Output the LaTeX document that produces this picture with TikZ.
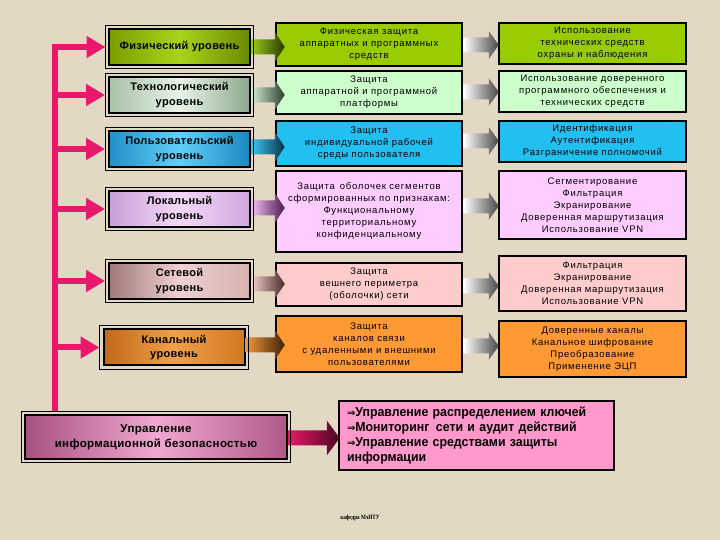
\documentclass[tikz,border=0pt]{standalone}
\usepackage{fontspec}
\setmainfont{Liberation Sans}
\newfontfamily\spacedfont[LetterSpace=8]{Liberation Sans}
\newfontfamily\lboxfont[LetterSpace=3]{Liberation Sans}
\newfontfamily\narrowfont[FakeStretch=0.95]{Liberation Sans}
\newfontfamily\symfont{DejaVu Sans}
\newfontfamily\footfont[FakeStretch=0.8]{Liberation Serif}
\usetikzlibrary{arrows.meta,calc}
\definecolor{bgc}{HTML}{E2D8C4}
\definecolor{pinkc}{HTML}{E8186A}
\definecolor{rowa}{HTML}{99CC00}
\definecolor{rowb}{HTML}{CCFFCC}
\definecolor{rowc}{HTML}{22C0F0}
\definecolor{rowd}{HTML}{FFCCFF}
\definecolor{rowe}{HTML}{FFCCCC}
\definecolor{rowf}{HTML}{FF9933}
\definecolor{rbc}{HTML}{FF99CC}
\definecolor{gapc}{HTML}{EEE8DC}
% arrow gradient colours
\definecolor{aAl}{HTML}{9ACD20}\definecolor{aAr}{HTML}{2A3800}
\definecolor{aBl}{HTML}{D0EDD0}\definecolor{aBr}{HTML}{2E3E2E}
\definecolor{aCl}{HTML}{40C8F0}\definecolor{aCr}{HTML}{083048}
\definecolor{aDl}{HTML}{F4C0F4}\definecolor{aDr}{HTML}{4A1850}
\definecolor{aEl}{HTML}{F4D0D0}\definecolor{aEr}{HTML}{4A2828}
\definecolor{aFl}{HTML}{F09838}\definecolor{aFr}{HTML}{402008}
\definecolor{grayr}{HTML}{484848}
\definecolor{bottomr}{HTML}{4A0820}
% left box shading colours
\definecolor{lAl}{HTML}{7A9E00}\definecolor{lAm}{HTML}{A8D41A}\definecolor{lAr}{HTML}{6A8A00}
\definecolor{lBl}{HTML}{A8C0A8}\definecolor{lBm}{HTML}{E8F4E8}\definecolor{lBr}{HTML}{8CA88C}
\definecolor{lCl}{HTML}{2090C8}\definecolor{lCm}{HTML}{60D0F8}\definecolor{lCr}{HTML}{1888C0}
\definecolor{lDl}{HTML}{C8A0D8}\definecolor{lDm}{HTML}{F4D8F8}\definecolor{lDr}{HTML}{D0A8E0}
\definecolor{lEl}{HTML}{A07878}\definecolor{lEm}{HTML}{F0D0D0}\definecolor{lEr}{HTML}{D8B0B0}
\definecolor{lFl}{HTML}{C06818}\definecolor{lFm}{HTML}{F0A048}\definecolor{lFr}{HTML}{D07820}
\definecolor{lGl}{HTML}{A85080}\definecolor{lGm}{HTML}{F0A8D0}\definecolor{lGr}{HTML}{B05888}
% #1 from, #2 to, #3 Y, #4 tip offset past to.west, #5 head length, #6 head half, #7 left colour, #8 right colour
\newcommand\blockarrow[8]{%
  \shade[left color=#7,right color=#8] let \p1=(#1.east),\p2=(#2.west) in
  (\x1,#3pt+7.5pt) -- (\x2+#4pt-#5pt,#3pt+7.5pt) -- (\x2+#4pt-#5pt,#3pt+#6pt)
  -- (\x2+#4pt,#3pt) -- (\x2+#4pt-#5pt,#3pt-#6pt) -- (\x2+#4pt-#5pt,#3pt-7.5pt)
  -- (\x1,#3pt-7.5pt) -- cycle;}
\begin{document}
\begin{tikzpicture}[x=1pt,y=1pt,
  lbox/.style={rectangle,draw=black,line width=2pt,minimum width=141pt,minimum height=36pt,
    inner sep=1pt,align=center,font=\lboxfont\bfseries\fontsize{11}{14.5}\selectfont},
  lshade/.style={left color=l#1l,right color=l#1r,middle color=l#1m},
  mbox/.style={rectangle,draw=black,line width=2.5pt,minimum width=186pt,inner sep=1pt,
    align=center,font=\spacedfont\fontsize{9.5}{12}\selectfont},
  rbox/.style={mbox,minimum width=187pt},
  pinkline/.style={draw=pinkc,line width=6pt,line join=miter},
  pinkarr/.style={pinkline,-{Triangle[length=19pt,width=21pt]},shorten >=3pt}]
\useasboundingbox (0,0) rectangle (720,540);
\fill[bgc] (0,0) rectangle (720,540);

% left column
\node[lbox,lshade=A] (L1) at (179.5,493) {Физический уровень};
\node[lbox,lshade=B] (L2) at (179.5,445) {Технологический\\уровень};
\node[lbox,lshade=C] (L3) at (179.5,391) {Пользовательский\\уровень};
\node[lbox,lshade=D] (L4) at (179.5,331) {Локальный\\уровень};
\node[lbox,lshade=E] (L5) at (179.5,259) {Сетевой\\уровень};
\node[lbox,lshade=F] (L6) at (174,192.5) {Канальный\\уровень};
\node[lbox,lshade=G,minimum width=262pt,minimum height=44pt,font=\lboxfont\bfseries\fontsize{11.5}{14.5}\selectfont] (LB) at (156,103) {Управление\\информационной безопасностью};

% pink connector
\coordinate (VL) at (55,0);
\draw[pinkline,-{Triangle[length=19pt,width=21pt]},shorten >=2.5pt] ([yshift=2.5pt]LB.north -| VL) -- (VL |- L1.west) -- (L1.west);
\foreach \n in {L2,L3,L4,L5,L6}
  \draw[pinkarr] (\n.west -| VL) -- (\n.west);

% middle column
\node[mbox,fill=rowa,minimum height=43pt] (M1) at (369,495.5) {Физическая защита\\аппаратных и программных\\средств};
\node[mbox,fill=rowb,minimum height=43pt] (M2) at (369,447.5) {Защита\\аппаратной и программной\\платформы};
\node[mbox,fill=rowc,minimum height=45pt] (M3) at (369,396.5) {Защита\\индивидуальной рабочей\\среды пользователя};
\node[mbox,fill=rowd,minimum height=81pt] (M4) at (369,328.5) {Защита\, оболочек сегментов\\сформированных по признакам:\\Функциональному\\территориальному\\конфиденциальному};
\node[mbox,fill=rowe,minimum height=43pt] (M5) at (369,255.5) {Защита\\вешнего периметра\\(оболочки) сети};
\node[mbox,fill=rowf,minimum height=56pt] (M6) at (369,196) {Защита\\каналов связи\\с удаленными и внешними\\пользователями};

% right column
\node[rbox,fill=rowa,minimum height=41pt] (R1) at (592.5,496.5) {Использование\\технических средств\\охраны и наблюдения};
\node[rbox,fill=rowb,minimum height=41pt] (R2) at (592.5,448.5) {Использование доверенного\\программного обеспечения и\\технических средств};
\node[rbox,fill=rowc,minimum height=41pt] (R3) at (592.5,398.5) {Идентификация\\Аутентификация\\Разграничение полномочий};
\node[rbox,fill=rowd,minimum height=68pt] (R4) at (592.5,335) {Сегментирование\\Фильтрация\\Экранирование\\Доверенная маршрутизация\\Использование VPN};
\node[rbox,fill=rowe,minimum height=55pt] (R5) at (592.5,256.5) {Фильтрация\\Экранирование\\Доверенная маршрутизация\\Использование VPN};
\node[rbox,fill=rowf,minimum height=56pt] (R6) at (592.5,191) {Доверенные каналы\\Канальное шифрование\\Преобразование\\Применение ЭЦП};

% bottom right
\node[rectangle,draw=black,line width=2.5pt,fill=rbc,minimum width=275pt,minimum height=69pt,
  text width=259pt,inner sep=0pt,align=left,
  font=\narrowfont\bfseries\fontsize{13}{15}\selectfont] (RB) at (476.5,104.5)
  {{\symfont\fontsize{10}{15}\selectfont⇒}Управление распределением ключей\\
   {\symfont\fontsize{10}{15}\selectfont⇒}Мониторинг\, сети и аудит действий\\
   {\symfont\fontsize{10}{15}\selectfont⇒}Управление средствами защиты\\
   информации};

% block arrows left -> middle
\blockarrow{L1}{M1}{493}{10}{10}{15}{aAl}{aAr}
\blockarrow{L2}{M2}{445}{10}{10}{15}{aBl}{aBr}
\blockarrow{L3}{M3}{393}{10}{10}{15}{aCl}{aCr}
\blockarrow{L4}{M4}{332}{10}{10}{15}{aDl}{aDr}
\blockarrow{L5}{M5}{256}{10}{10}{15}{aEl}{aEr}
\blockarrow{L6}{M6}{195}{10}{10}{15}{aFl}{aFr}

% block arrows middle -> right
\blockarrow{M1}{R1}{495}{1}{10}{14}{white}{grayr}
\blockarrow{M2}{R2}{448}{1}{10}{14}{white}{grayr}
\blockarrow{M3}{R3}{399}{1}{10}{14}{white}{grayr}
\blockarrow{M4}{R4}{334}{1}{10}{14}{white}{grayr}
\blockarrow{M5}{R5}{254}{1}{10}{14}{white}{grayr}
\blockarrow{M6}{R6}{194}{1}{10}{14}{white}{grayr}

% bottom arrow
\blockarrow{LB}{RB}{102}{2}{13}{17.5}{pinkc}{bottomr}

% outer frames of left boxes
\foreach \n in {L1,L2,L3,L4,L5,L6,LB}
  \draw[line width=0.9pt] ([shift={(-2.6pt,2.6pt)}]\n.north west) rectangle ([shift={(2.6pt,-2.6pt)}]\n.south east);

% footer
\node[font=\footfont\bfseries\fontsize{6.5}{7}\selectfont] (foot) at (360,22) {кафедра МэИТУ};
\end{tikzpicture}
\end{document}
